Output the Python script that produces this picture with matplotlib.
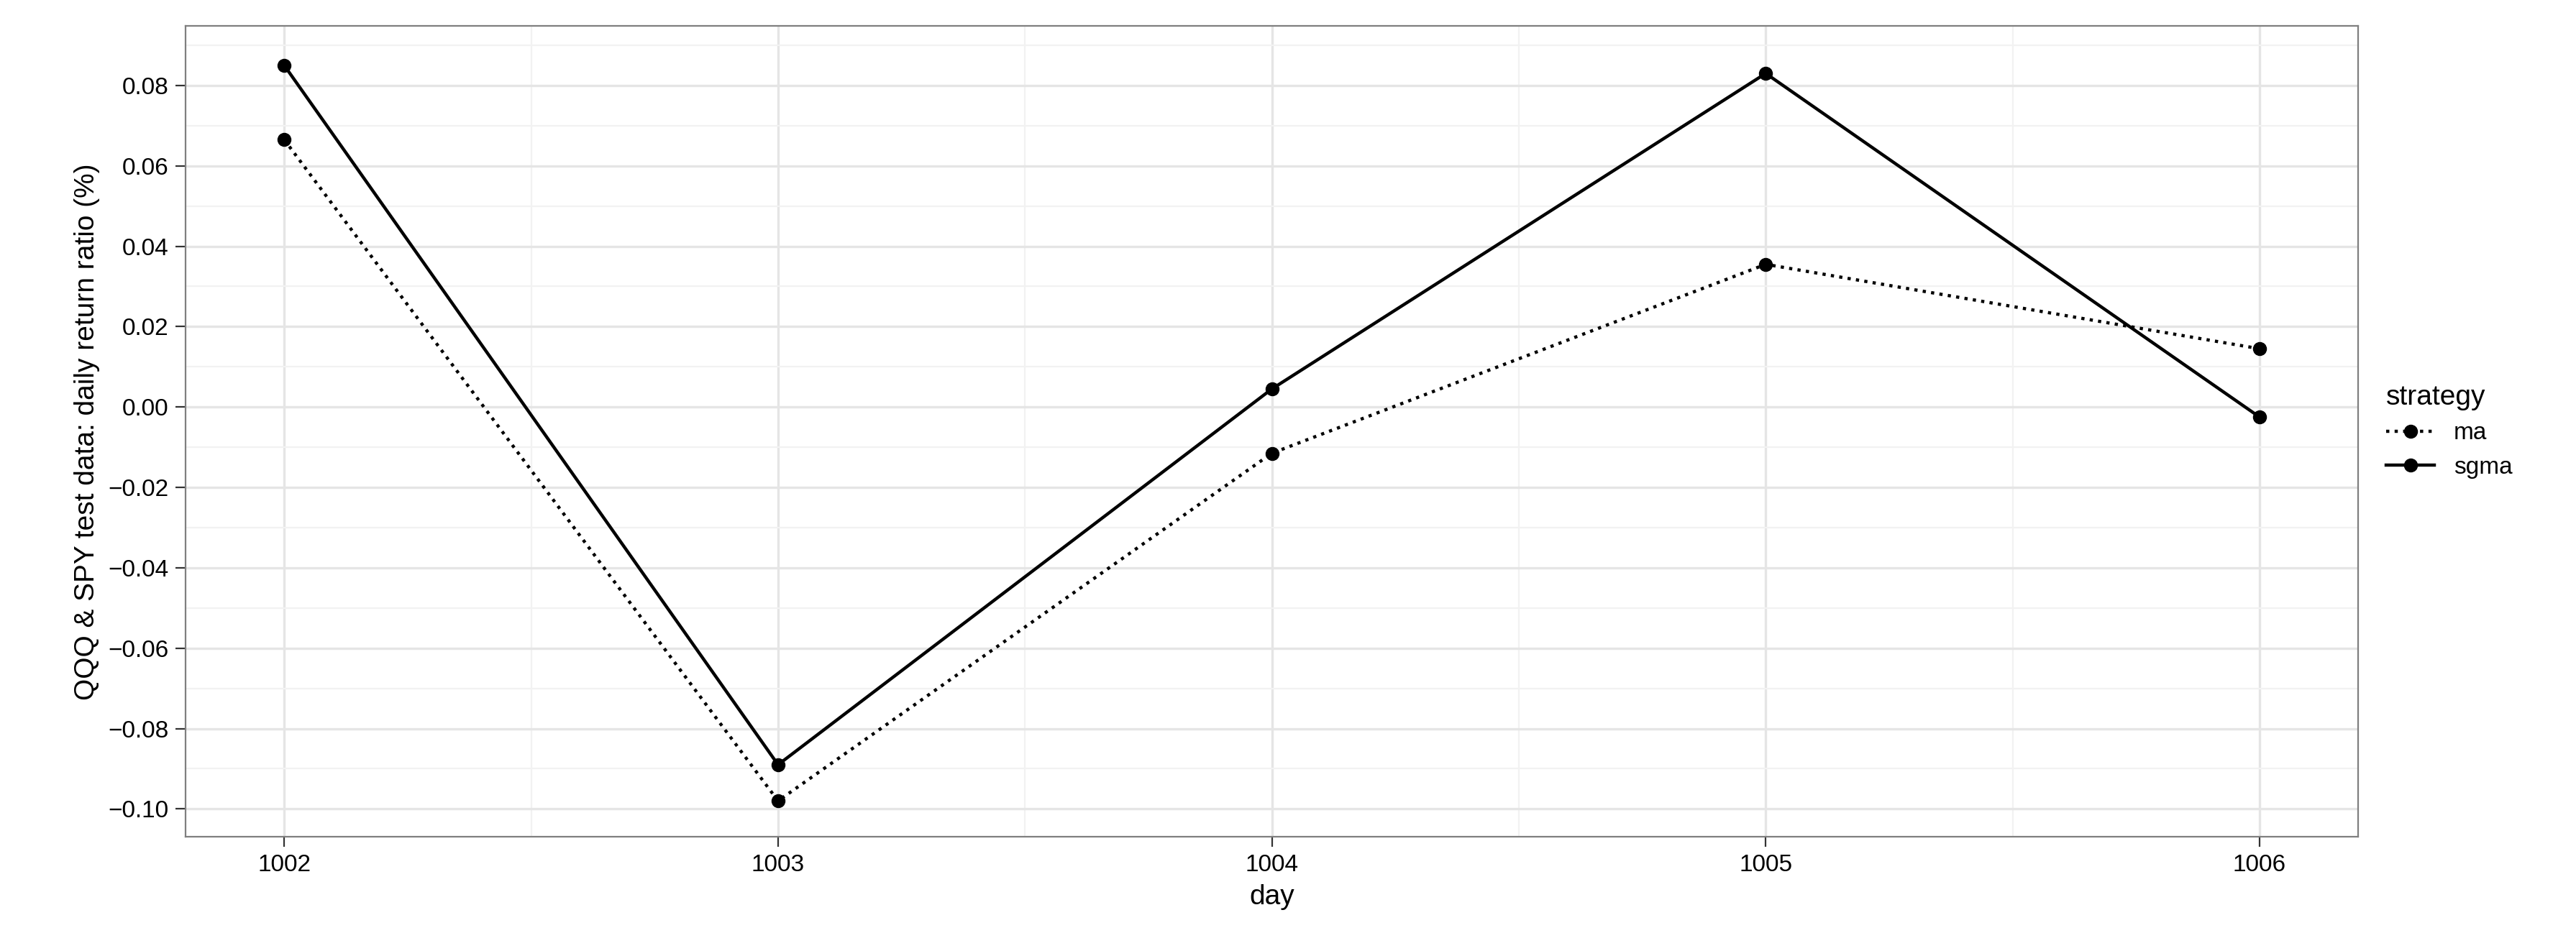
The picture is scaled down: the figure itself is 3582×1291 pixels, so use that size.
import matplotlib
matplotlib.use("Agg")
import matplotlib.pyplot as plt
from matplotlib.ticker import MultipleLocator

days = [1002, 1003, 1004, 1005, 1006]
ma = [0.0665, -0.098, -0.0115, 0.0355, 0.0145]
sgma = [0.085, -0.089, 0.0045, 0.083, -0.0025]
yticks = [-0.10, -0.08, -0.06, -0.04, -0.02, 0.00, 0.02, 0.04, 0.06, 0.08]

plt.rcParams['font.family'] = ['Liberation Sans', 'DejaVu Sans']
fig = plt.figure(figsize=(17.91, 6.455), dpi=200)
ax = fig.add_axes([0.072, 0.098, 0.848 - 0.0045, 0.874])
ax.plot(days, ma, ':', color='black', lw=1.6, marker='o', ms=6, label='ma')
ax.plot(days, sgma, '-', color='black', lw=1.6, marker='o', ms=6, label='sgma')
ax.set_xlim(1001.8, 1006.2)
ax.set_ylim(-0.107, 0.0948)
ax.set_xticks(days)
ax.set_yticks(yticks)
ax.set_yticklabels(["%.2f" % v if v >= 0 else "\u2212%.2f" % -v for v in yticks])
ax.xaxis.set_minor_locator(MultipleLocator(0.5))
ax.yaxis.set_minor_locator(MultipleLocator(0.01))
ax.grid(which='major', color='#e5e5e5', lw=1.2)
ax.grid(which='minor', color='#f2f2f2', lw=0.8)
ax.set_axisbelow(True)
ax.tick_params(which='minor', length=0)
ax.tick_params(which='major', labelsize=12, color='#333333', length=5)
for s in ax.spines.values():
    s.set_color('#7f7f7f')
ax.set_xlabel('day', fontsize=14)
ax.set_ylabel('QQQ & SPY test data: daily return ratio (%)', fontsize=14,
              family=['Liberation Sans Narrow', 'Liberation Sans', 'DejaVu Sans'])
leg = fig.legend(loc='center left', bbox_to_anchor=(0.918, 0.535), title='strategy',
                 fontsize=12, title_fontsize=14, frameon=False, handlelength=2.0,
                 alignment='left')
fig.savefig('out.png', dpi=200)
